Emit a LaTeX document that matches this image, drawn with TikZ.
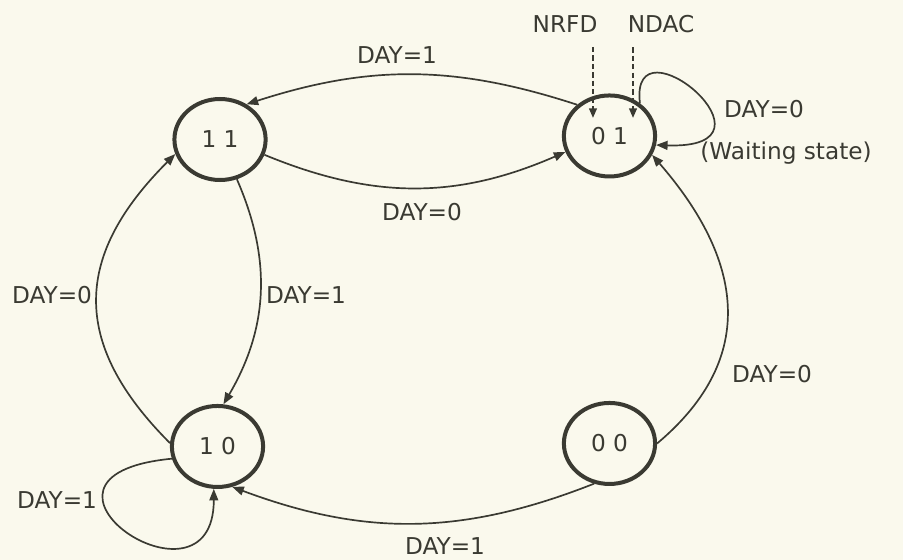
\documentclass[tikz,border=0pt]{standalone}
\usepackage{fontspec}
\setmainfont{DejaVu Sans}
\usetikzlibrary{arrows.meta,positioning,shapes.geometric}
\definecolor{ink}{RGB}{58,58,50}
\definecolor{paper}{RGB}{250,249,237}
\tikzset{
    state/.style={
        draw=ink,
        ellipse,
        line width=1.9pt,
        minimum width=15.2mm,
        minimum height=13.5mm,
        inner sep=0pt,
        text=ink,
        font=\fontsize{11}{13}\selectfont
    },
    trans/.style={-{Triangle[length=5.5pt,width=4.2pt]}, draw=ink, line width=0.8pt},
    sig/.style={-{Triangle[length=4.5pt,width=3.6pt]}, draw=ink, line width=0.9pt,
        dash pattern=on 2.5pt off 1.5pt, shorten <=2mm},
    lbl/.style={text=ink, inner sep=1pt, font=\fontsize{11}{13}\selectfont}
}

\begin{document}
\begin{tikzpicture}
    \fill[paper] (0,0) rectangle (15.05,9.333);
    \useasboundingbox (0,0) rectangle (15.05,9.333);

    % states
    \node[state] (s11) at (3.667,7.008) {1 1};
    \node[state] (s01) at (10.158,7.067) {0 1};
    \node[state] (s10) at (3.625,1.892) {1 0};
    \node[state] (s00) at (10.158,1.942) {0 0};

    % handshake lines
    \node[lbl] (nrfd) at (9.417,8.933) {NRFD};
    \node[lbl] (ndac) at (11.017,8.933) {NDAC};
    \coordinate (in1) at (9.883,7.367);
    \coordinate (in2) at (10.550,7.367);
    \draw[sig] (nrfd.south -| in1) -- (in1);
    \draw[sig] (ndac.south -| in2) -- (in2);

    % transitions
    \draw[trans] (s01.136) to[bend right=18] (s11.53);
    \draw[trans] (s11.-19) to[bend right=23] (s01.-160);
    \draw[trans] (s11.-67) to[bend left=27] (s10.82);
    \draw[trans] (s10.176) to[out=135,in=225,looseness=1.26] (s11.198);
    \draw[trans] (s00.east) to[out=40,in=-49,looseness=1.2] (s01.-24);
    \draw[trans] (s00.-111) to[bend left=21] (s10.-70);
    \draw[trans] (s01.47) .. controls +(97:1.51cm) and +(-2:2.28cm) .. (s01.-11);
    \draw[trans] (s10.195) .. controls +(185.5:2.98cm) and +(-90:2.25cm) .. (s10.-95);

    % labels
    \node[lbl] (l1) at (6.617,8.417) {DAY=1};
    \node[lbl] (l2) at (7.033,5.800) {DAY=0};
    \node[lbl] (l3) at (12.733,7.517) {DAY=0};
    \node[lbl] (wait) at (13.100,6.780) {(Waiting state)};
    \node[lbl] (l4) at (0.867,4.417) {DAY=0};
    \node[lbl] (l5) at (5.100,4.417) {DAY=1};
    \node[lbl] (l6) at (12.867,3.100) {DAY=0};
    \node[lbl] (l7) at (0.950,1.000) {DAY=1};
    \node[lbl] (l8) at (7.417,0.230) {DAY=1};
\end{tikzpicture}
\end{document}
